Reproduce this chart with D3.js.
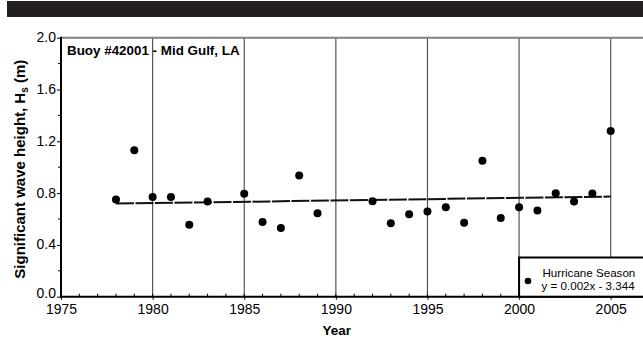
<!DOCTYPE html>
<html>
<head>
<meta charset="utf-8">
<script src="https://cdn.jsdelivr.net/npm/d3@7"></script>
<style>
  html, body { margin: 0; padding: 0; background: #fff; }
  svg { display: block; font-family: "Liberation Sans", Arial, sans-serif; }
</style>
</head>
<body>
<svg id="chart" width="643" height="341"></svg>
<script>
// Hurricane-season mean significant wave height, buoy 42001
const years = [1978, 1979, 1980, 1981, 1982, 1983, 1985, 1986, 1987, 1988, 1989,
               1992, 1993, 1994, 1995, 1996, 1997, 1998, 1999, 2000, 2001, 2002,
               2003, 2004, 2005];
const waveHeight = [0.75, 1.13, 0.77, 0.77, 0.555, 0.735, 0.795, 0.577, 0.53, 0.935, 0.645,
                    0.737, 0.567, 0.637, 0.657, 0.69, 0.572, 1.05, 0.608, 0.69, 0.665, 0.798,
                    0.735, 0.796, 1.28];
const xTickLabels = [1975, 1980, 1985, 1990, 1995, 2000, 2005];
const yTickLabels = [0.0, 0.4, 0.8, 1.2, 1.6, 2.0];
const titleText = "Buoy #42001 - Mid Gulf, LA";
const legendLabel = "Hurricane Season";
const equationText = "y = 0.002x - 3.344";

const svg = d3.select("#chart");

// header band
svg.append("rect").attr("x", 7).attr("y", 1).attr("width", 636).attr("height", 16)
  .attr("fill", "#231f20");

const plotLeft = 61, plotTop = 37.7, plotBottom = 296.7;
const x = d3.scaleLinear().domain([1975, 2005]).range([plotLeft, 610.7]);
const y = d3.scaleLinear().domain([0, 2]).range([plotBottom, plotTop]);

// least-squares trend through the points
const n = years.length;
const mx = d3.mean(years), my = d3.mean(waveHeight);
let sxy = 0, sxx = 0;
for (let i = 0; i < n; i++) {
  sxy += (years[i] - mx) * (waveHeight[i] - my);
  sxx += (years[i] - mx) * (years[i] - mx);
}
const slope = sxy / sxx;
const intercept = my - slope * mx;
const trendX = [d3.min(years), d3.max(years)];

// vertical grid lines at labelled years
svg.append("g").selectAll("line")
  .data(xTickLabels.filter(d => d > 1975))
  .join("line")
  .attr("x1", d => x(d)).attr("x2", d => x(d))
  .attr("y1", plotTop).attr("y2", plotBottom)
  .attr("stroke", "#555").attr("stroke-width", 1.2);

// top frame line
svg.append("line").attr("x1", plotLeft).attr("x2", 643).attr("y1", plotTop).attr("y2", plotTop)
  .attr("stroke", "#808080").attr("stroke-width", 2);

// trend line
svg.append("line")
  .attr("x1", x(trendX[0])).attr("x2", x(trendX[1]))
  .attr("y1", y(intercept + slope * trendX[0])).attr("y2", y(intercept + slope * trendX[1]))
  .attr("stroke", "#111").attr("stroke-width", 2)
  .attr("stroke-dasharray", "18,1.5");

// points
svg.append("g").selectAll("circle")
  .data(years.map((d, i) => [d, waveHeight[i]]))
  .join("circle")
  .attr("cx", d => x(d[0])).attr("cy", d => y(d[1])).attr("r", 4)
  .attr("fill", "#000");

// x axis
const xAxis = d3.axisBottom(x).tickValues(xTickLabels).tickFormat(d3.format("d"))
  .tickSize(3).tickPadding(4);
const gx = svg.append("g").attr("transform", `translate(0,${plotBottom})`).call(xAxis);
gx.select(".domain").remove();
gx.selectAll(".tick line").attr("stroke", "#000");
gx.selectAll("text").attr("font-size", 14).attr("fill", "#000")
  .attr("font-family", "Liberation Sans, Arial, sans-serif");
// yearly minor ticks pointing up
svg.append("g").selectAll("line")
  .data(d3.range(1976, 2008))
  .join("line")
  .attr("x1", d => x(d)).attr("x2", d => x(d))
  .attr("y1", plotBottom).attr("y2", plotBottom - 3)
  .attr("stroke", "#000").attr("stroke-width", 1);
svg.append("line").attr("x1", plotLeft - 1).attr("x2", 643).attr("y1", plotBottom).attr("y2", plotBottom)
  .attr("stroke", "#000").attr("stroke-width", 2);

// y axis
const yAxis = d3.axisLeft(y).tickValues(yTickLabels).tickFormat(d3.format(".1f"))
  .tickSize(4).tickPadding(1);
const gy = svg.append("g").attr("transform", `translate(${plotLeft},0)`).call(yAxis);
gy.select(".domain").remove();
gy.selectAll(".tick line").attr("stroke", "#000");
gy.selectAll("text").attr("font-size", 14).attr("fill", "#000")
  .attr("dy", d => d === 0 ? "0.06em" : "0.28em")
  .attr("font-family", "Liberation Sans, Arial, sans-serif");
svg.append("g").selectAll("line")
  .data(d3.range(0.2, 2, 0.4))
  .join("line")
  .attr("x1", plotLeft).attr("x2", plotLeft - 3)
  .attr("y1", d => y(d)).attr("y2", d => y(d))
  .attr("stroke", "#000").attr("stroke-width", 1);
svg.append("line").attr("x1", plotLeft).attr("x2", plotLeft).attr("y1", plotTop - 1).attr("y2", plotBottom + 1)
  .attr("stroke", "#000").attr("stroke-width", 2);

// title inside plot
svg.append("text").attr("x", 67).attr("y", 54.5).text(titleText)
  .attr("font-size", 13.4).attr("font-weight", "bold").attr("fill", "#000");

// axis titles
svg.append("text").attr("x", x(1990) + 1).attr("y", 335).attr("text-anchor", "middle")
  .attr("font-size", 13.5).attr("font-weight", "bold").text("Year");
const yt = svg.append("text")
  .attr("transform", `translate(25,${(plotTop + plotBottom) / 2 + 2}) rotate(-90)`)
  .attr("text-anchor", "middle").attr("font-size", 15).attr("font-weight", "bold");
yt.append("tspan").text("Significant wave height, H");
yt.append("tspan").attr("font-size", 10).attr("dy", 3).text("s");
yt.append("tspan").attr("dy", -3).text(" (m)");

// legend
const lg = svg.append("g");
lg.append("rect").attr("x", x(2000)).attr("y", 257.5)
  .attr("width", 643 - x(2000) + 5).attr("height", plotBottom - 257.5)
  .attr("fill", "#fff").attr("stroke", "#000").attr("stroke-width", 2);
lg.append("circle").attr("cx", 528).attr("cy", 281).attr("r", 3.3).attr("fill", "#000");
lg.append("text").attr("x", 542.5).attr("y", 277).attr("font-size", 11.6).text(legendLabel);
lg.append("text").attr("x", 541.5).attr("y", 290).attr("font-size", 11.6).text(equationText);
</script>
</body>
</html>
